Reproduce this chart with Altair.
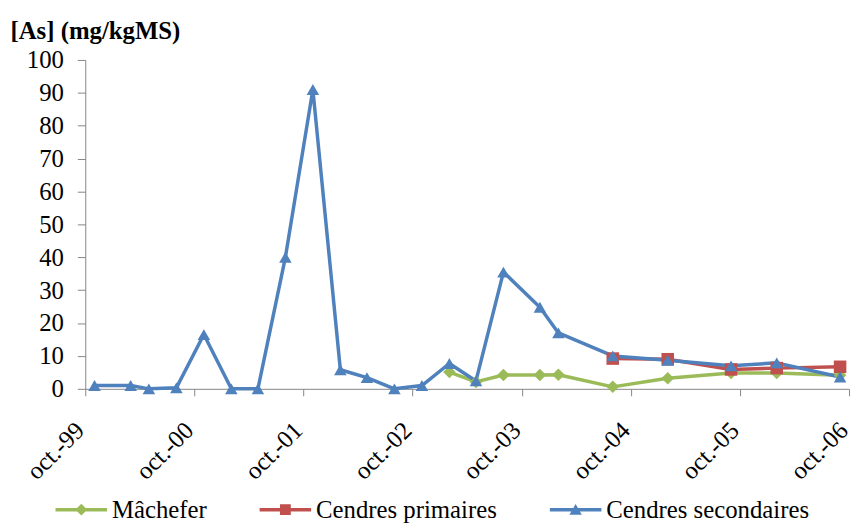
import altair as alt
import pandas as pd

series_names = ["Mâchefer", "Cendres primaires", "Cendres secondaires"]
series_colors = ["#9BBB59", "#C0504D", "#4F81BD"]
point_shapes = ["diamond", "square", "triangle-up"]
legend_paths = [
    "M-1,-0.067H1V0.067H-1ZM0,-0.23L0.23,0L0,0.23L-0.23,0Z",
    "M-1,-0.067H1V0.067H-1ZM-0.21,-0.21H0.21V0.21H-0.21Z",
    "M-1,-0.067H1V0.067H-1ZM0,-0.22L0.24,0.2H-0.24Z",
]

sec_dates = ["1999-11-01", "2000-03-01", "2000-05-01", "2000-08-01", "2000-11-01",
             "2001-02-01", "2001-05-01", "2001-08-01", "2001-11-01", "2002-02-01",
             "2002-05-01", "2002-08-01", "2002-11-01", "2003-02-01", "2003-05-01",
             "2003-08-01", "2003-12-01", "2004-02-01", "2004-08-01", "2005-02-01",
             "2005-09-01", "2006-02-01", "2006-09-01"]
sec_values = [1.0, 1.0, 0.0, 0.3, 16.5, 0.0, 0.0, 40.0, 91.0, 5.8, 3.4, 0.0, 1.0,
              7.7, 2.4, 35.5, 24.8, 17.0, 10.0, 8.7, 7.0, 7.9, 3.6]

mach_dates = ["2003-02-01", "2003-05-01", "2003-08-01", "2003-12-01", "2004-02-01",
              "2004-08-01", "2005-02-01", "2005-09-01", "2006-02-01", "2006-09-01"]
mach_values = [5.1, 2.1, 4.2, 4.2, 4.3, 0.6, 3.2, 4.8, 4.8, 4.1]

prim_dates = ["2004-08-01", "2005-02-01", "2005-09-01", "2006-02-01", "2006-09-01"]
prim_values = [9.2, 9.0, 5.9, 6.3, 6.7]

y_ticks = list(range(0, 101, 10))
x_tick_years = list(range(1999, 2007))

rows = []
for name, ds, vs in [(series_names[0], mach_dates, mach_values),
                     (series_names[1], prim_dates, prim_values),
                     (series_names[2], sec_dates, sec_values)]:
    for d, v in zip(ds, vs):
        rows.append({"serie": name, "date": d, "value": v})
df = pd.DataFrame(rows)

FONT = "Liberation Serif"

x_enc = alt.X(
    "date:T",
    scale=alt.Scale(
        type="utc",
        domain=[alt.DateTime(year=1999, month=10, date=1, utc=True),
                alt.DateTime(year=2006, month=10, date=1, utc=True)],
        nice=False,
    ),
    axis=alt.Axis(
        values=[alt.DateTime(year=y, month=10, date=1, utc=True) for y in x_tick_years],
        labelExpr="'oct.-' + utcFormat(datum.value, '%y')",
        labelAngle=-45, labelAlign="right", labelBaseline="alphabetic",
        labelPadding=36, labelOffset=0, tickSize=7, title=None, grid=False,
        labelOverlap=False, labelFlush=False,
        labelFont=FONT, labelFontSize=25, labelColor="black",
        domainColor="#868686", tickColor="#868686",
    ),
)

y_enc = alt.Y(
    "value:Q",
    scale=alt.Scale(domain=[0, 100], nice=False),
    axis=alt.Axis(
        values=y_ticks, grid=False,
        title="[As] (mg/kgMS)", titleAngle=0, titleAlign="left",
        titleBaseline="alphabetic", titleX=-76, titleY=-22,
        titleFont=FONT, titleFontSize=25, titleFontWeight="bold", titleColor="black",
        labelFont=FONT, labelFontSize=25, labelColor="black", labelPadding=14,
        tickSize=8, domainColor="#868686", tickColor="#868686",
    ),
)

color_scale = alt.Scale(domain=series_names, range=series_colors)

base = alt.Chart(df)

lines = base.mark_line(strokeWidth=3.5, strokeJoin="round").encode(
    x=x_enc, y=y_enc,
    color=alt.Color("serie:N", scale=color_scale, legend=None),
)

points = base.mark_point(filled=True, size=160, opacity=1).encode(
    x=x_enc, y=y_enc,
    color=alt.Color("serie:N", scale=color_scale, legend=None),
    shape=alt.Shape("serie:N", scale=alt.Scale(domain=series_names, range=point_shapes), legend=None),
)

legend_kw = dict(
    orient="none", legendX=-30, legendY=428, direction="horizontal",
    title=None, columnPadding=53, labelOffset=5, padding=0,
    labelFont=FONT, labelFontSize=25, labelColor="black", labelLimit=400,
    symbolSize=2704, symbolStrokeWidth=0, symbolOpacity=1,
)

legend_layer = base.mark_point(filled=True, size=160, opacity=0).encode(
    x=x_enc, y=y_enc,
    color=alt.Color("serie:N", scale=color_scale, legend=alt.Legend(**legend_kw)),
    shape=alt.Shape("serie:N", scale=alt.Scale(domain=series_names, range=legend_paths),
                    legend=alt.Legend(**legend_kw)),
)

chart = alt.layer(lines, points, legend_layer).resolve_scale(
    color="independent", shape="independent"
).properties(
    width=771, height=332,
    autosize=alt.AutoSizeParams(type="none"),
    padding={"left": 78, "top": 50, "right": 4, "bottom": 133},
    background="white",
).configure_view(stroke=None)

chart.save("out.html", embed_options={"renderer": "svg", "actions": False})
